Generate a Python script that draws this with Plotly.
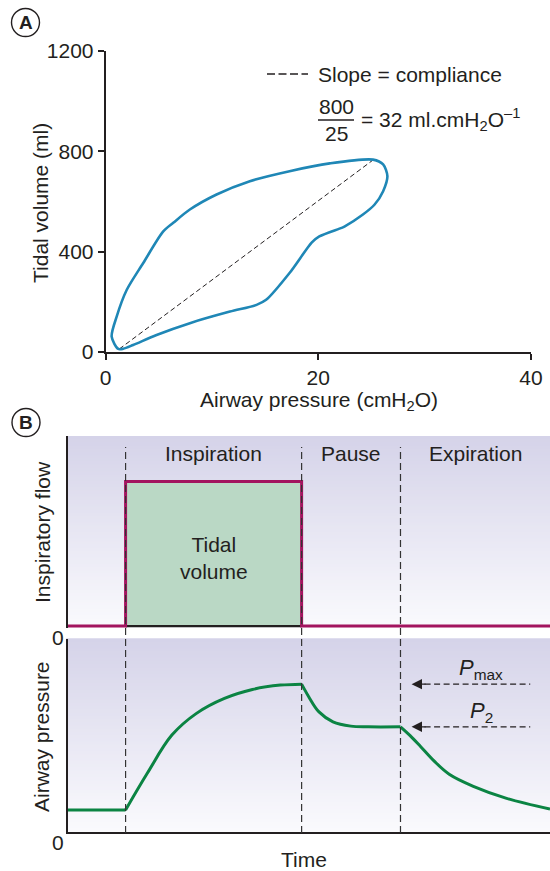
import plotly.graph_objects as go

# ---------------- Panel A data ----------------
loop_pressure = [1.2, 0.58, 1.05, 2.0, 3.55, 5.43, 6.37, 7.93, 10.44, 13.57, 17.3, 21.08, 25.15,
                 26.1, 26.5, 26.1, 25.3, 24.2, 22.5, 22.2, 20.1, 19.4, 17.3, 15.1, 14.2, 11.7,
                 7.93, 4.8, 2.6, 1.67, 1.2]
loop_volume = [12, 61, 141, 248, 355, 481, 515, 568, 628, 681, 721, 752, 767,
               748, 701, 641, 588, 548, 501, 495, 461, 437, 315, 208, 188, 161,
               115, 68, 28, 13, 12]
compliance_pressure = [1.3, 25.2]
compliance_volume = [12, 767]
a_xticks = [0, 20, 40]
a_yticks = [0, 400, 800, 1200]

# ---------------- Panel B data ----------------
phase_labels = ["Inspiration", "Pause", "Expiration"]
phase_bounds = [1.2, 4.85, 6.9, 10.0]
flow_time = [0, 1.2, 1.2, 4.85, 4.85, 10.0]
flow_value = [0, 0, 0.76, 0.76, 0, 0]
pressure_time = [0, 1.2, 1.65, 2.16, 2.67, 3.25, 3.83, 4.41, 4.85,
                 5.0, 5.21, 5.5, 5.87, 6.23, 6.9,
                 7.1, 7.32, 7.6, 7.91, 8.41, 9.1, 10.0]
pressure_value = [4.5, 4.5, 12.1, 20.0, 24.5, 27.6, 29.45, 30.35, 30.55,
                  27.9, 24.8, 22.75, 21.86, 21.72, 21.72,
                  19.9, 17.6, 14.6, 11.9, 9.4, 6.91, 4.69]
p_max = 30.55
p_2 = 21.72

W, H = 550, 871
FONT = "Liberation Sans, Arial, Helvetica, sans-serif"
INK = "#231f20"
BLUE = "#1f87b6"
MAGENTA = "#a3145f"
GREEN = "#0b8443"
SQUARE = "#bad8c5"
FS = 21


def px(x):
    return x / W


def py(y):
    return 1 - y / H


fig = go.Figure()

# ---- Panel A traces ----
fig.add_trace(go.Scatter(x=compliance_pressure, y=compliance_volume, mode="lines",
                         line=dict(color=INK, width=1, dash="5px,3px"),
                         xaxis="x", yaxis="y", hoverinfo="skip"))
fig.add_trace(go.Scatter(x=loop_pressure, y=loop_volume, mode="lines",
                         line=dict(color=BLUE, width=2.6, shape="spline", smoothing=0.8),
                         xaxis="x", yaxis="y", hoverinfo="skip"))

# ---- Panel B: flow ----
sq_t = [phase_bounds[0], phase_bounds[0], phase_bounds[1], phase_bounds[1], phase_bounds[0]]
sq_v = [0, flow_value[2], flow_value[3], 0, 0]
fig.add_trace(go.Scatter(x=sq_t, y=sq_v, mode="lines", fill="toself", fillcolor=SQUARE,
                         line=dict(width=0), xaxis="x2", yaxis="y2", hoverinfo="skip"))
fig.add_trace(go.Scatter(x=[phase_bounds[0], phase_bounds[1]], y=[0, 0], mode="lines",
                         line=dict(color=INK, width=2.2), xaxis="x2", yaxis="y2", hoverinfo="skip"))
fig.add_trace(go.Scatter(x=flow_time, y=flow_value, mode="lines",
                         line=dict(color=MAGENTA, width=3), xaxis="x2", yaxis="y2", hoverinfo="skip"))

# ---- Panel B: pressure (split at sharp corners) ----
corners = [pressure_time.index(t) for t in phase_bounds[:3]] + [len(pressure_time) - 1]
start = 0
for c in corners:
    if c > start:
        fig.add_trace(go.Scatter(x=pressure_time[start:c + 1], y=pressure_value[start:c + 1],
                                 mode="lines",
                                 line=dict(color=GREEN, width=3, shape="spline", smoothing=1.0),
                                 xaxis="x3", yaxis="y3", hoverinfo="skip"))
    start = c

shapes = []
annotations = []

# gradient backgrounds for panel B (overlapping bands, drawn bottom to top)
top_rgb = (213, 211, 233)
bot_rgb = (250, 250, 253)
N = 60
for ax_suffix in ["2", "3"]:
    for i in range(N):
        f = i / (N - 1)
        c = tuple(round(bot_rgb[k] + (top_rgb[k] - bot_rgb[k]) * f) for k in range(3))
        shapes.append(dict(type="rect", xref="x%s domain" % ax_suffix, yref="y%s domain" % ax_suffix,
                           x0=-0.003, x1=1, y0=i / N, y1=min(1.0, (i + 2) / N),
                           fillcolor="rgb(%d,%d,%d)" % c, line=dict(width=0), layer="below"))

# vertical dashed phase lines
for t in phase_bounds[:3]:
    shapes.append(dict(type="line", xref="x3", yref="paper", x0=t, x1=t,
                       y0=py(833), y1=py(447),
                       line=dict(color="#333333", width=1.2, dash="7px,4px"), layer="above"))

# legend-like dashes in panel A
shapes.append(dict(type="line", xref="paper", yref="paper", x0=px(267), x1=px(308),
                   y0=py(74), y1=py(74), line=dict(color=INK, width=1.3, dash="8px,3.5px")))
# fraction bar
shapes.append(dict(type="line", xref="paper", yref="paper", x0=px(318), x1=px(354),
                   y0=py(120), y1=py(120), line=dict(color=INK, width=1.3)))


def note(text, x, y, xref="paper", yref="paper", size=FS, xanchor="center", angle=0):
    return dict(text=text, x=x, y=y, xref=xref, yref=yref, showarrow=False,
                xanchor=xanchor, yanchor="middle", textangle=angle,
                font=dict(size=size, color=INK, family=FONT))


# circled panel letters
for letter, cx, cy in [("A", 25.5, 22.5), ("B", 26, 422.5)]:
    shapes.append(dict(type="circle", xref="paper", yref="paper",
                       x0=px(cx - 14), x1=px(cx + 14), y0=py(cy + 14), y1=py(cy - 14),
                       line=dict(color=INK, width=1.4)))
    annotations.append(note("<b>%s</b>" % letter, px(cx), py(cy), size=19))

# Pmax / P2 arrows
for val, label, ly in [(p_max, "<i>P</i><sub>max</sub>", 669), (p_2, "<i>P</i><sub>2</sub>", 712)]:
    shapes.append(dict(type="line", xref="x3", yref="y3", x0=7.4, x1=9.59, y0=val, y1=val,
                       line=dict(color=INK, width=1.3, dash="6px,3.5px")))
    annotations.append(dict(x=7.13, y=val, xref="x3", yref="y3", ax=7.45, ay=val,
                            axref="x3", ayref="y3", text="", showarrow=True,
                            arrowhead=2, arrowsize=1.6, arrowwidth=1.3, arrowcolor=INK))
    annotations.append(note(label, px(481), py(ly), size=22))

# Panel A texts
annotations += [
    note("Slope = compliance", px(316), py(74), xanchor="left"),
    note("800", px(336), py(107)),
    note("25", px(336), py(133)),
    note("= 32 ml.cmH<sub>2</sub>O<sup>–1</sup>", px(359), py(120), xanchor="left"),
    note("Tidal volume (ml)", px(40), py(203), angle=-90),
    note("Airway pressure (cmH<sub>2</sub>O)", px(318.5), py(401)),
]

# Panel B texts
mid = [(phase_bounds[i] + phase_bounds[i + 1]) / 2 for i in range(3)]
for lab, m in zip(phase_labels, mid):
    annotations.append(note(lab, m, py(453), xref="x2"))
annotations += [
    note("Tidal<br>volume", (phase_bounds[0] + phase_bounds[1]) / 2, py(558), xref="x2"),
    note("Inspiratory flow", px(42), py(532), angle=-90),
    note("Airway pressure", px(41), py(737), angle=-90),
    note("0", px(58), py(637)),
    note("0", px(58), py(842)),
    note("Time", px(304), py(859)),
]

axis_common = dict(showgrid=False, zeroline=False, linecolor=INK, linewidth=1.6, automargin=False)

fig.update_layout(
    template="none",
    width=W, height=H, margin=dict(l=0, r=0, t=0, b=0, pad=0, autoexpand=False),
    paper_bgcolor="white", plot_bgcolor="rgba(0,0,0,0)", showlegend=False,
    font=dict(family=FONT, color=INK),
    xaxis=dict(domain=[px(105.5), px(531)], range=[0, 40], anchor="y", showline=True,
               tickvals=a_xticks, ticks="outside", ticklen=6, tickwidth=1.5, tickcolor=INK,
               tickfont=dict(size=FS, color=INK, family=FONT), **axis_common),
    yaxis=dict(domain=[py(352), py(51)], range=[0, 1200], anchor="x", showline=True,
               tickvals=a_yticks, ticks="outside", ticklen=6, tickwidth=1.5, tickcolor=INK,
               tickfont=dict(size=FS, color=INK, family=FONT), **axis_common),
    xaxis2=dict(domain=[px(67.7), 1], range=[0, 10], anchor="y2", showline=False,
                showticklabels=False, ticks="", **axis_common),
    yaxis2=dict(domain=[py(628), py(436)], range=[-0.01, 1], anchor="x2", showline=True,
                showticklabels=False, ticks="", **axis_common),
    xaxis3=dict(domain=[px(67.7), 1], range=[0, 10], anchor="y3", showline=True,
                showticklabels=False, ticks="", **axis_common),
    yaxis3=dict(domain=[py(831.7), py(638.5)], range=[0, 40], anchor="x3", showline=True,
                showticklabels=False, ticks="", **axis_common),
    shapes=shapes, annotations=annotations,
)

fig.write_html("out.html")
